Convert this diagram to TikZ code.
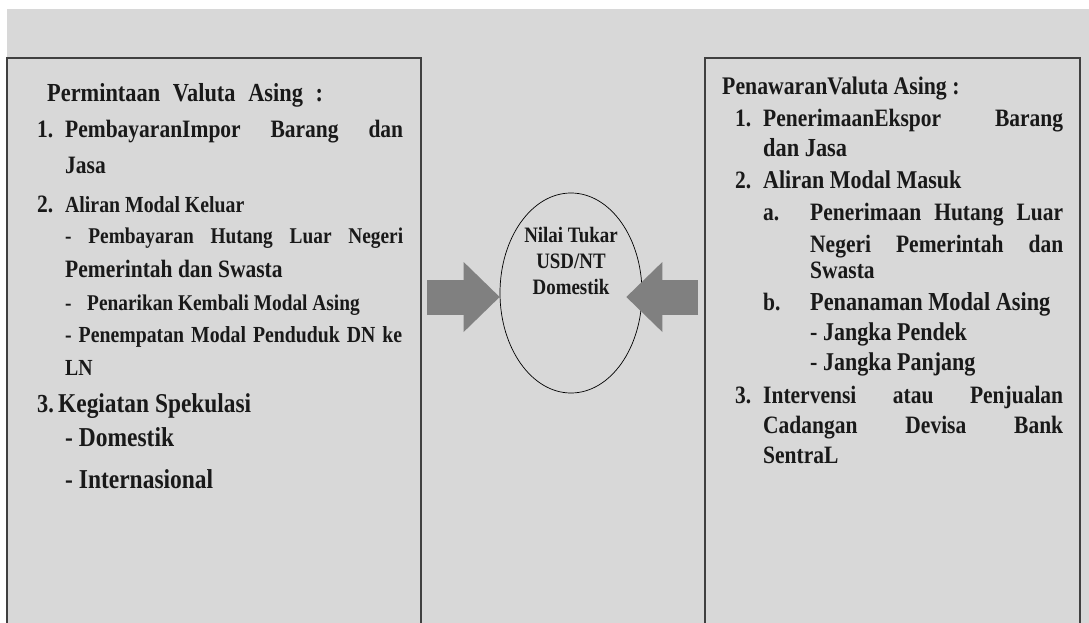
\documentclass[tikz,border=0pt]{standalone}
\usepackage{fontspec}
\setmainfont{Liberation Serif}[FakeStretch=0.86]
\usepackage{tikz}
\usetikzlibrary{arrows.meta,positioning,shapes.geometric}
\definecolor{panelgrey}{HTML}{D8D8D8}
\definecolor{framegrey}{HTML}{404040}
\definecolor{arrowgrey}{HTML}{808080}
\newcommand{\txtsize}[1]{\fontsize{#1}{#1}\selectfont}
\newcommand{\jline}[2]{\makebox[#1pt][s]{#2}}
\tikzset{
  panel/.style={
    rectangle, draw=framegrey, line width=1.5pt, inner sep=0pt,
    outer sep=0pt, anchor=north west, minimum height=570pt
  },
  rate/.style={
    ellipse, draw=black, line width=0.7pt, inner sep=0pt,
    minimum width=142pt, minimum height=200pt
  },
  txt/.style={anchor=base west, inner sep=0pt, font=\bfseries, text=black!90},
  ratetxt/.style={
    align=center, inner sep=0pt, text=black!90,
    font=\bfseries\fontsize{22}{26}\selectfont
  },
  blockarr/.style={
    arrowgrey, line width=35pt,
    -{Triangle[length=36pt, width=70pt, line width=0pt]}
  },
}

\begin{document}
\begin{tikzpicture}[x=1pt, y=-1pt]
  \useasboundingbox (0,0) rectangle (1089,623);
  \fill[panelgrey] (7,9) rectangle (1089,623);

  % Panels and exchange rate
  \node[panel, minimum width=414pt] (demand) at (7,58) {};
  \node[panel, minimum width=375pt] (supply) at (705,58) {};
  \node[rate] (rate) at (571,293) {};
  \node[ratetxt] (ratelbl) at (571,261) {Nilai Tukar\\USD/NT\\Domestik};

  % Demand side
  \node[txt] (dhead) at (47,102) {\txtsize{26}\jline{276}{Permintaan Valuta Asing :}};
  \node[txt] (d1n) at (37,138) {\txtsize{25}1.};
  \node[txt] (d1a) at (65,138) {\txtsize{25}\jline{338}{PembayaranImpor Barang dan}};
  \node[txt] (d1b) at (65,173) {\txtsize{25}Jasa};
  \node[txt] (d2n) at (37,212) {\txtsize{25}2.};
  \node[txt] (d2a) at (65,212) {\txtsize{23}Aliran Modal Keluar};
  \node[txt] (d2b) at (65,243) {\txtsize{22.5}\jline{338}{- Pembayaran Hutang Luar Negeri}};
  \node[txt] (d2c) at (65,277) {\txtsize{25}Pemerintah dan Swasta};
  \node[txt] (d2d) at (65,310) {\txtsize{22.5}\makebox[22pt][l]{-}Penarikan Kembali Modal Asing};
  \node[txt] (d2e) at (65,342) {\txtsize{23}\jline{337}{- Penempatan Modal Penduduk DN ke}};
  \node[txt] (d2f) at (65,375) {\txtsize{23}LN};
  \node[txt] (d3n) at (37,412) {\txtsize{26}3.};
  \node[txt] (d3a) at (58,412) {\txtsize{27.2}Kegiatan Spekulasi};
  \node[txt] (d3b) at (65,446) {\txtsize{27.3}- Domestik};
  \node[txt] (d3c) at (65,488) {\txtsize{27.3}- Internasional};

  % Supply side
  \node[txt] (shead) at (722,95) {\txtsize{25.3}PenawaranValuta Asing :};
  \node[txt] (s1n) at (735,127) {\txtsize{25}1.};
  \node[txt] (s1a) at (763,127) {\txtsize{25}\jline{300}{PenerimaanEkspor Barang}};
  \node[txt] (s1b) at (763,157) {\txtsize{26}dan Jasa};
  \node[txt] (s2n) at (735,188) {\txtsize{25}2.};
  \node[txt] (s2a) at (763,188) {\txtsize{25.6}Aliran Modal Masuk};
  \node[txt] (s2an) at (763,220) {\txtsize{25}a.};
  \node[txt] (s2a1) at (810,220) {\txtsize{25}\jline{253}{Penerimaan Hutang Luar}};
  \node[txt] (s2a2) at (810,252) {\txtsize{25}\jline{253}{Negeri Pemerintah dan}};
  \node[txt] (s2a3) at (810,278) {\txtsize{25}Swasta};
  \node[txt] (s2bn) at (763,310) {\txtsize{25}b.};
  \node[txt] (s2b1) at (810,310) {\txtsize{25.9}Penanaman Modal Asing};
  \node[txt] (s2b2) at (810,340) {\txtsize{25.6}- Jangka Pendek};
  \node[txt] (s2b3) at (810,370) {\txtsize{25.6}- Jangka Panjang};
  \node[txt] (s3n) at (735,403) {\txtsize{25}3.};
  \node[txt] (s3a) at (763,403) {\txtsize{25}\jline{300}{Intervensi atau Penjualan}};
  \node[txt] (s3b) at (763,433) {\txtsize{25}\jline{300}{Cadangan Devisa Bank}};
  \node[txt] (s3c) at (763,463) {\txtsize{25}SentraL};

  % Block arrows into the rate
  \coordinate (lvl) at (0,297);
  \draw[blockarr, shorten <=6pt] (demand.east |- lvl) -- (rate.west |- lvl);
  \draw[blockarr, shorten <=7pt, shorten >=-16pt] (supply.west |- lvl) -- (rate.east |- lvl);
\end{tikzpicture}
\end{document}
